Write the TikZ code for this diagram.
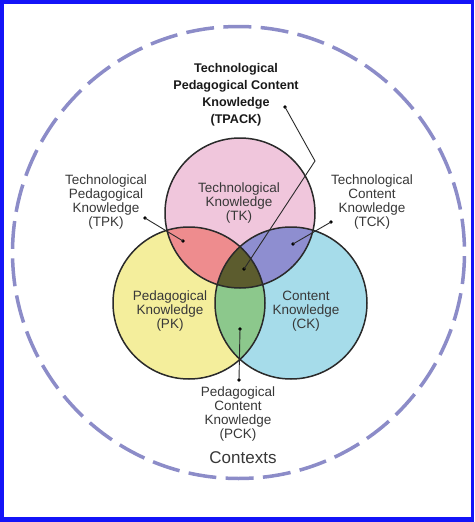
\documentclass[tikz,border=0pt]{standalone}
\usepackage{fontspec}
\setmainfont{Liberation Sans}
\definecolor{frameblue}{HTML}{1414F8}
\definecolor{ctxcol}{HTML}{8C8CC8}
\definecolor{tkcol}{HTML}{F0C6DC}
\definecolor{pkcol}{HTML}{F4EE9C}
\definecolor{ckcol}{HTML}{A6DCEA}
\definecolor{tpkcol}{HTML}{EE8C8E}
\definecolor{tckcol}{HTML}{8E8ED0}
\definecolor{pckcol}{HTML}{8CC88C}
\definecolor{tpackcol}{HTML}{5C5C2E}
\definecolor{txtgray}{HTML}{383838}
\definecolor{edgecol}{HTML}{2A2A2A}
\begin{document}
\begin{tikzpicture}[x=1pt,y=-1pt,
  lbl/.style={align=center, font=\fontsize{13.5}{13.8}\selectfont, text=txtgray, inner sep=0pt},
  boldlbl/.style={align=center, font=\fontsize{12.6}{17}\selectfont\bfseries, text=black!90, inner sep=0pt},
  ctxlbl/.style={font=\fontsize{17}{18}\selectfont, text=txtgray, inner sep=0pt},
  pin/.style={circle, fill=black, inner sep=0pt, minimum size=3.6pt},
  lead/.style={draw=edgecol, line width=0.9pt},
  ring/.style={draw=edgecol, line width=1.5pt},
  ctxring/.style={draw=ctxcol, line width=3.5pt, dash pattern=on 28pt off 9.37pt, dash phase=31.5pt}]
\useasboundingbox (0,0) rectangle (474,522);
% frame
\fill[frameblue] (0,0) rectangle (474,522);
\fill[white] (3.5,4) rectangle (470.5,517);
% contexts ring
\coordinate (ctxc) at (238.5,252.5);
\draw[ctxring] (ctxc) circle [radius=226pt];
% circle centres
\coordinate (tkc) at (240,213);
\coordinate (pkc) at (189,303);
\coordinate (ckc) at (291,303);
% base fills
\fill[tkcol] (tkc) circle [radius=75pt];
\fill[pkcol] (pkc) circle [radius=76pt];
\fill[ckcol] (ckc) circle [radius=76pt];
% TPK
\begin{scope}
  \clip (tkc) circle [radius=75pt];
  \fill[tpkcol] (pkc) circle [radius=76pt];
\end{scope}
% TCK
\begin{scope}
  \clip (tkc) circle [radius=75pt];
  \fill[tckcol] (ckc) circle [radius=76pt];
\end{scope}
% PCK
\begin{scope}
  \clip (pkc) circle [radius=76pt];
  \fill[pckcol] (ckc) circle [radius=76pt];
\end{scope}
% TPACK
\begin{scope}
  \clip (tkc) circle [radius=75pt];
  \clip (pkc) circle [radius=76pt];
  \fill[tpackcol] (ckc) circle [radius=76pt];
\end{scope}
% outlines
\draw[ring] (tkc) circle [radius=75pt];
\draw[ring] (pkc) circle [radius=76pt];
\draw[ring] (ckc) circle [radius=76pt];
% labels
\node[boldlbl] (tpack) at (236,95) {Technological\\Pedagogical Content\\Knowledge\\(TPACK)};
\node[lbl] (tpk) at (106,202) {Technological\\Pedagogical\\Knowledge\\(TPK)};
\node[lbl] (tck) at (372,202) {Technological\\Content\\Knowledge\\(TCK)};
\node[lbl] (tk) at (239,203) {Technological\\Knowledge\\(TK)};
\node[lbl] (pk) at (170,311) {Pedagogical\\Knowledge\\(PK)};
\node[lbl] (ck) at (306,311) {Content\\Knowledge\\(CK)};
\node[lbl] (pck) at (238,414) {Pedagogical\\Content\\Knowledge\\(PCK)};
\node[ctxlbl] (ctx) at (243,458) {Contexts};
% pins
\node[pin] (tpackpin) at (285,107) {};
\node[pin] (tpackin) at (244,269) {};
\coordinate (tpackbend) at (315,161);
\node[pin] (tpkpin) at (145,218) {};
\node[pin] (tpkin) at (183,241) {};
\node[pin] (tckpin) at (331,222) {};
\node[pin] (tckin) at (293,244) {};
\node[pin] (pckpin) at (239,380) {};
\node[pin] (pckin) at (240,329) {};
% leaders
\draw[lead] (tpackpin.center) -- (tpackbend) -- (tpackin.center);
\draw[lead] (tpkpin.center) -- (tpkin.center);
\draw[lead] (tckpin.center) -- (tckin.center);
\draw[lead] (pckpin.center) -- (pckin.center);
\end{tikzpicture}
\end{document}
